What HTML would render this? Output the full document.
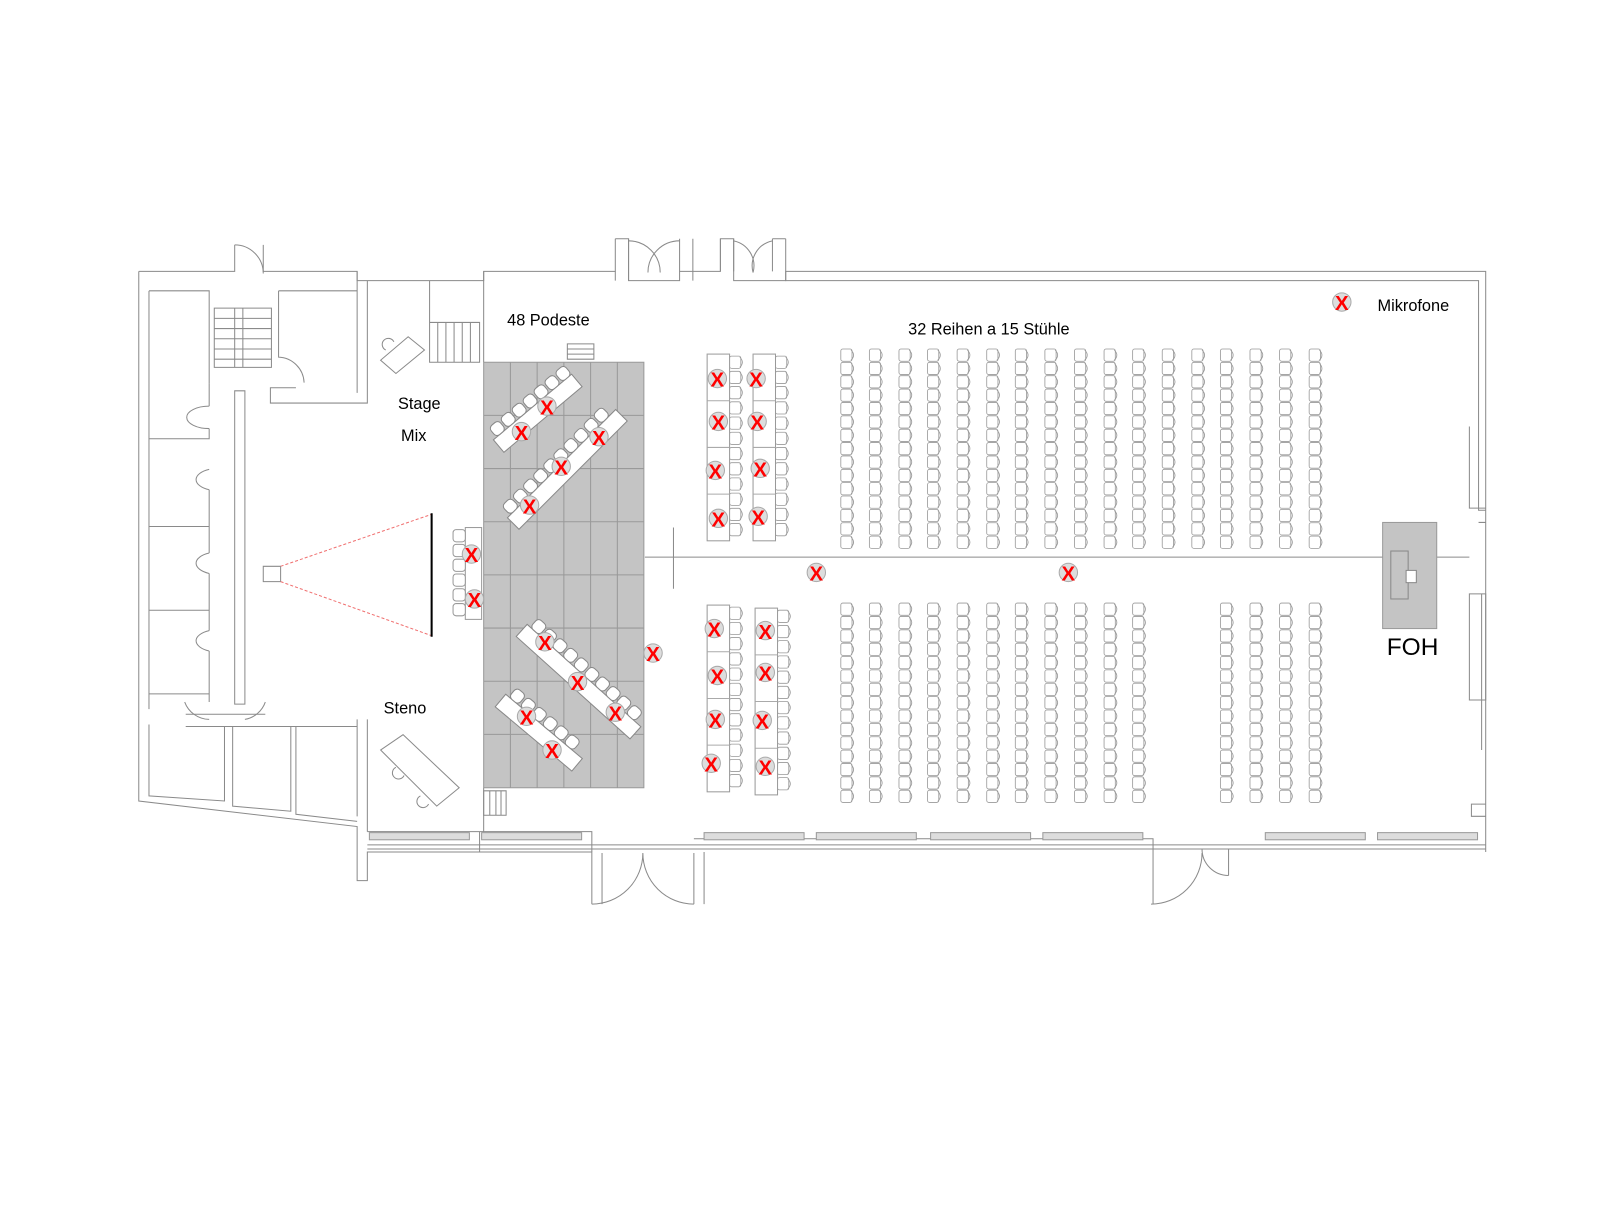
<!DOCTYPE html>
<html><head><meta charset="utf-8"><style>
html,body{margin:0;padding:0;background:#fff;}
svg{display:block;}
text{font-family:"Liberation Sans",sans-serif;}
</style></head><body>
<svg id="s" width="1600" height="1218" viewBox="0 0 1600 1218" xmlns="http://www.w3.org/2000/svg">
<g transform="scale(1.0204)">
<g fill="none" stroke="#8a8a8a" stroke-width="1">
<path d="M136 266 H230 V240 M258 240 V266 H350 V275 H474 V266 H603 V234 M616 234 V275 H666 V266 H706 V234 M719 234 V275 H770 V266 H1456 V835"/>
<path d="M616 266 V234 H603 M719 266 V234 H706 V266 M603 275 V266 M616 275 V266 M666 234 V266 M679 234 V275 M757 234 V266 M770 234 H757"/>
<path d="M616 236 A31 31 0 0 1 647 267 M666 236 A31 31 0 0 0 635 267"/>
<path d="M719 236 A25 25 0 0 1 738 267 M757 236 A25 25 0 0 0 738 267"/>
<path d="M770 234 V275 H1449 V500 H1456"/>
<path d="M230 240 A28 28 0 0 1 258 268"/>
<path d="M136 266 V785 L350 810 V863 H360 V835 H580 V886 M590 836 V886"/>
<path d="M580 886 A50 50 0 0 0 630 836 M680 886 A50 50 0 0 1 630 836 M680 886 V836 M690 835 V886"/>
<path d="M360 815 H470 V835 M470 815 H580 V835 M680 822 H1130 V886 M1128 886 A50 50 0 0 0 1178 836 M1204 858 A26 26 0 0 1 1178 832 M1204 858 V832 H1456"/>
<path d="M360 828 H1456 M360 832 H1456"/>
<path d="M350 266 V385 M360 275 V395 H265 V380 H290 M360 705 V815 M350 705 V800"/>
<path d="M146 285 H205 V376 M146 285 V695 M146 710 V780 L220 785 V712 M228 712 V790 L285 795 V712 M290 712 V798 L350 805"/>
<path d="M146 430 H205 V420 M146 516 H205 V480 M146 598 H205 V562 M146 680 H205 V638 M205 376 V398 M205 516 V542 M205 598 V618 M205 680 V688"/>
<path d="M273 285 H350 M273 285 V350 A26 26 0 0 1 298 375"/>
<path d="M230 383 H240 V690 H230 Z"/>
<path d="M205 398 A22 11 0 0 0 205 420 M205 460 A22 11 0 0 0 205 480 M205 542 A22 11 0 0 0 205 562 M205 618 A22 11 0 0 0 205 638 M181 688 A26 26 0 0 0 205 705 M260 688 A26 26 0 0 1 240 705"/>
<path d="M182 700 H260 M182 712 H350"/>
<path d="M210 302 H266 V360 H210 Z M230 302 V360 M238 302 V360 M210 312 H266 M210 322 H266 M210 332 H266 M210 342 H266 M210 352 H266"/>
<path d="M421 275 V355 H470 V316 H421 M429 316 V355 M437 316 V355 M445 316 V355 M453 316 V355 M461 316 V355"/>
<path d="M474 266 V355 M474 772 V815"/>
<path d="M1449 512 H1456 M1440 418 V498 H1456 M1440 582 H1456 V686 H1440 Z M1452 582 V735 M1456 788 H1442 V800 H1456"/>
<path d="M632 546 H1355 M1407 546 H1440 M660 517 V577"/>
<path d="M556 337 H582 V352 H556 Z M556 342 H582 M556 347 H582"/>
<path d="M474 775 H496 V799 H474 Z M480 775 V799 M486 775 V799 M491 775 V799"/>
<path d="M258 555 H275 V570 H258 Z"/>
<path d="M373 353 L400 330 L416 343 L388 366 Z"/>
<path d="M373 735 L395 720 L450 772 L428 790 Z"/>
<path d="M378 343 a6 6 0 1 1 8 -8 M388 752 a6 6 0 1 0 8 8 M412 780 a6 6 0 1 0 8 8"/>
</g>
<path d="M275 555 L423 504 M275 570 L423 623" stroke="#f07070" stroke-width="1" stroke-dasharray="3,2" fill="none"/>
<line x1="423" y1="503" x2="423" y2="624" stroke="#000" stroke-width="2"/>
<g fill="#ddd" stroke="#999" stroke-width="1">
<rect x="362" y="816" width="98" height="7"/><rect x="472" y="816" width="98" height="7"/>
<rect x="690" y="816" width="98" height="7"/><rect x="800" y="816" width="98" height="7"/>
<rect x="912" y="816" width="98" height="7"/><rect x="1022" y="816" width="98" height="7"/>
<rect x="1240" y="816" width="98" height="7"/><rect x="1350" y="816" width="98" height="7"/>
</g>
<g id="stage"></g>
<rect x="1355" y="512" width="53" height="104" fill="#c4c4c4" stroke="#999"/>
<rect x="1363" y="540" width="17" height="47" fill="none" stroke="#888"/>
<rect x="1378" y="559" width="10" height="12" fill="#fff" stroke="#888"/>
<g id="chairs" fill="#fff" stroke="#999" stroke-width="0.8"></g>
<g id="tables"></g>
<g id="mics"></g>
<g font-size="16" fill="#000">
<text x="497" y="319">48 Podeste</text>
<text x="890" y="328">32 Reihen a 15 Stühle</text>
<text x="1350" y="305">Mikrofone</text>
<text x="390" y="401">Stage</text>
<text x="393" y="432">Mix</text>
<text x="376" y="699">Steno</text>
<text x="1359" y="642" font-size="24">FOH</text>
</g>
</g>
</svg>
<script>
var NS="http://www.w3.org/2000/svg";
function el(p,t,a){var e=document.createElementNS(NS,t);for(var k in a)e.setAttribute(k,a[k]);p.appendChild(e);return e;}
var st=document.getElementById('stage');
el(st,'rect',{x:474,y:355,width:157,height:417,fill:'#c4c4c4',stroke:'#999'});
for(var i=1;i<6;i++){var x=474+i*26.2;el(st,'line',{x1:x,y1:355,x2:x,y2:772,stroke:'#999'});}
for(var j=1;j<8;j++){var y=355+j*52.1;el(st,'line',{x1:474,y1:y,x2:631,y2:y,stroke:'#999'});}
var ch=document.getElementById('chairs');
function chair(x,y){el(ch,'rect',{x:x,y:y,width:11,height:12,rx:2});el(ch,'path',{d:'M'+(x+10)+' '+(y+1)+' q5 5 0 10',fill:'none'});}
function col(x,y0,n,dy){for(var i=0;i<n;i++)chair(x,y0+i*dy);}
var up=[824,852,881,909,938,967,995,1024,1053,1082,1110,1139,1168,1196,1225,1254,1283];
up.forEach(function(x){col(x,342,15,13.1);});
var lo=[824,852,881,909,938,967,995,1024,1053,1082,1110,1196,1225,1254,1283];
lo.forEach(function(x){col(x,591,15,13.1);});
var tb=document.getElementById('tables');
function stable(x,y,h,n){el(tb,'rect',{x:x,y:y,width:22,height:h,fill:'#fff',stroke:'#999'});for(var i=0;i<4;i++)el(tb,'line',{x1:x,y1:y+i*h/4,x2:x+22,y2:y+i*h/4,stroke:'#aaa'});col(x+22,y+2,n,(h-4)/n);}
stable(693,347,183,12);stable(738,347,183,12);stable(693,593,183,12);stable(740,596,183,12);
el(tb,'rect',{x:456,y:517,width:16,height:90,fill:'#fff',stroke:'#999'});
for(var i=0;i<6;i++){el(tb,'rect',{x:444,y:519+i*14.5,width:12,height:12,rx:3,fill:'#fff',stroke:'#999'});}
function dtable(cx,cy,len,ang){var g=el(tb,'g',{transform:'translate('+cx+','+cy+') rotate('+ang+')'});
el(g,'rect',{x:-len/2,y:-8,width:len,height:16,fill:'#fff',stroke:'#888'});
for(var i=0;i<len/14-1;i++)el(g,'rect',{x:-len/2+4+i*14,y:-20,width:12,height:12,rx:4,fill:'#fff',stroke:'#888'});}
dtable(527,405,100,-40);dtable(556,460,150,-45);dtable(567,668,150,42);dtable(528,718,98,40);
var mc=document.getElementById('mics');
function mic(x,y){el(mc,'circle',{cx:x,cy:y-2,r:9,fill:'#ddd',stroke:'#aaa'});
var t=el(mc,'text',{x:x,y:y+6,'font-size':'20','font-weight':'bold','fill':'#f00','text-anchor':'middle','font-family':'Liberation Sans, sans-serif'});t.textContent='X';}
[[511,425],[536,400],[519,497],[550,459],[587,430],[534,631],[566,670],[603,700],[516,704],[541,737],
[462,545],[465,589],[703,373],[704,415],[701,463],[704,510],[741,373],[742,415],[745,461],[743,508],
[700,618],[703,664],[701,707],[697,750],[750,620],[750,661],[747,708],[750,753],
[800,563],[1047,563],[640,642],[1315,298]].forEach(function(p){mic(p[0],p[1]);});
</script>
</body></html>
